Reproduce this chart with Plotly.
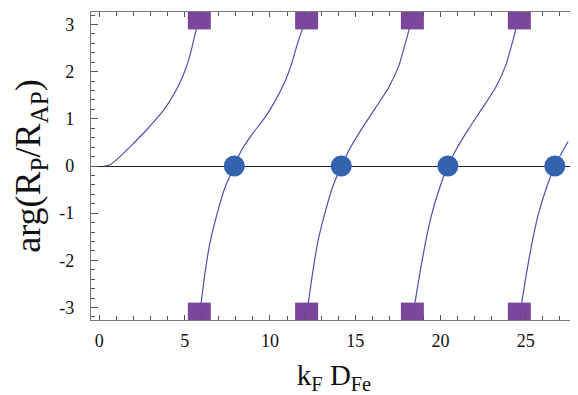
import plotly.graph_objects as go

# Branches of the phase curve (wrapped into [-pi, pi])
b1_x = [0.3, 0.6, 1.0, 1.5, 2.0, 2.6, 3.2, 3.8, 4.3, 4.7, 5.05, 5.35, 5.62, 5.86]
b1_y = [0.0, 0.02, 0.13, 0.30, 0.48, 0.70, 0.94, 1.20, 1.48, 1.75, 2.05, 2.40, 2.80, 3.14]

b2_x = [5.86, 5.96, 6.19, 6.49, 6.88, 7.36, 7.91, 8.34, 8.93, 9.71, 10.29, 10.88, 11.27, 11.66, 11.95, 12.15]
b2_y = [-3.14, -2.92, -2.27, -1.62, -1.04, -0.46, 0.0, 0.34, 0.66, 1.03, 1.37, 1.79, 2.17, 2.65, 2.95, 3.14]

b3_x = [12.15, 12.24, 12.50, 12.80, 13.19, 13.66, 14.18, 14.64, 15.35, 16.15, 16.95, 17.58, 17.98, 18.20, 18.35]
b3_y = [-3.14, -2.92, -2.27, -1.62, -1.04, -0.46, 0.0, 0.34, 0.77, 1.21, 1.66, 2.15, 2.66, 2.95, 3.14]

b4_x = [18.35, 18.49, 18.79, 19.08, 19.47, 19.95, 20.43, 20.90, 21.62, 22.42, 23.22, 23.84, 24.24, 24.45, 24.62]
b4_y = [-3.14, -2.92, -2.27, -1.69, -1.04, -0.46, 0.0, 0.34, 0.77, 1.21, 1.66, 2.15, 2.66, 2.95, 3.14]

b5_x = [24.62, 24.75, 25.04, 25.33, 25.72, 26.21, 26.70, 27.09, 27.48]
b5_y = [-3.14, -2.92, -2.27, -1.69, -1.04, -0.46, 0.0, 0.27, 0.52]

# Phase-jump markers (squares at +/- pi) and zero crossings (circles)
jump_x = [5.86, 12.15, 18.35, 24.62]
jump_top_y = [3.14, 3.14, 3.14, 3.14]
jump_bot_y = [-3.14, -3.14, -3.14, -3.14]
zero_x = [7.91, 14.18, 20.43, 26.70]
zero_y = [0, 0, 0, 0]

x_ticks = [0, 5, 10, 15, 20, 25]
x_labels = ["0", "5", "10", "15", "20", "25"]
y_ticks = [-3, -2, -1, 0, 1, 2, 3]
y_labels = ["-3", "-2", "-1", "0", "1", "2", "3"]

LINE = "#4f4fb0"
SQ = "#7b479c"
CIRC = "#3362ae"
FONT = "Liberation Serif, Times New Roman, serif"

fig = go.Figure()
for bx, by in [(b1_x, b1_y), (b2_x, b2_y), (b3_x, b3_y), (b4_x, b4_y), (b5_x, b5_y)]:
    fig.add_trace(go.Scatter(x=bx, y=by, mode="lines",
                             line=dict(color=LINE, width=1.2, shape="spline", smoothing=0.5),
                             hoverinfo="skip"))

fig.add_trace(go.Scatter(x=jump_x + jump_x, y=jump_top_y + jump_bot_y, mode="markers",
                         marker=dict(symbol="square", size=23, color=SQ, line=dict(width=0)),
                         cliponaxis=True))
fig.add_trace(go.Scatter(x=zero_x, y=zero_y, mode="markers",
                         marker=dict(symbol="circle", size=21, color=CIRC, line=dict(width=0)),
                         cliponaxis=True))

axis_common = dict(showgrid=False, showline=True, linecolor="#777777", linewidth=1.2,
                   mirror="allticks", ticks="inside", tickcolor="#555555", automargin=False,
                   tickfont=dict(family=FONT, size=18, color="#111111"))

# page body has an 8px default margin: size the figure so the plot lands where the reference has it
fig.update_layout(
    width=570, height=387,
    margin=dict(l=83, r=1, t=4, b=75),
    plot_bgcolor="white", paper_bgcolor="white",
    showlegend=False,
    font=dict(family=FONT, size=18, color="#111111"),
    xaxis=dict(range=[-0.49, 28.0], tickvals=x_ticks, ticktext=x_labels, ticklen=5, tickwidth=1.2,
               minor=dict(dtick=1, tick0=0, ticks="inside", ticklen=4, tickcolor="#555555"),
               zeroline=False, ticklabelstandoff=4,
               title=dict(text="k<sub>F</sub> D<sub>Fe</sub>", font=dict(family=FONT, size=29, color="#111111"),
                          standoff=14),
               **axis_common),
    yaxis=dict(range=[-3.265, 3.265], tickvals=y_ticks, ticktext=y_labels, ticklen=7, tickwidth=1.2,
               minor=dict(dtick=0.2, tick0=0, ticks="inside", ticklen=4, tickcolor="#555555"),
               zeroline=True, zerolinecolor="#222222", zerolinewidth=1.3, ticklabelstandoff=12,
               title=dict(text="arg(R<sub>P</sub>/R<sub>AP</sub>)", font=dict(family=FONT, size=36, color="#111111"),
                          standoff=8),
               **axis_common),
)

fig.write_html("out.html")
